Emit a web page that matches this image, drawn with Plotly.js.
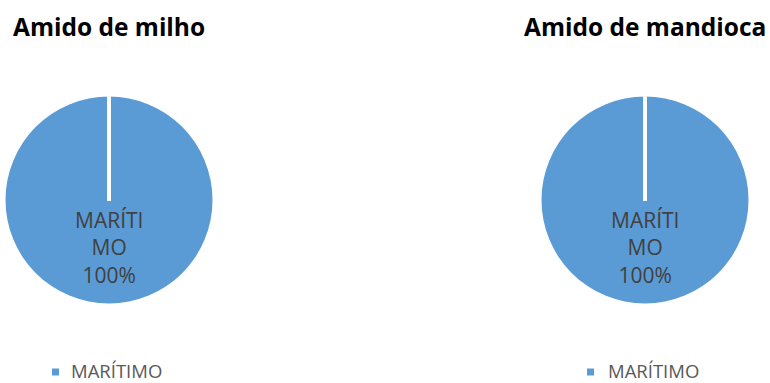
<!DOCTYPE html>
<html><head><meta charset="utf-8">
<script src="https://cdn.plot.ly/plotly-3.0.1.min.js"></script>
<style>body{margin:0;background:#fff}#c{width:770px;height:383px}</style>
</head><body><div id="c"></div>
<script>
const chartTitles = ["Amido de milho", "Amido de mandioca"];
const categories = ["MARÍTIMO"];
const wrappedLabels = ["MARÍTI<br>MO"];
const valuesMilho = [100];
const valuesMandioca = [100];

const W = 770, H = 383;
const pieColor = "#5B9BD5";
const pies = [
  {values: valuesMilho, cx: 109, cy: 200, r: 103.5, legSq: 55.5, legText: 70},
  {values: valuesMandioca, cx: 645, cy: 200, r: 103.5, legSq: 590.5, legText: 607}
];

const data = pies.map((p, i) => ({
  type: "pie",
  labels: categories,
  values: p.values,
  marker: {colors: [pieColor], line: {color: "#ffffff", width: 0}},
  textinfo: "none",
  hoverinfo: "label+percent",
  sort: false,
  direction: "clockwise",
  rotation: 0,
  showlegend: false,
  domain: {
    x: [(p.cx - p.r) / W, (p.cx + p.r) / W],
    y: [1 - (p.cy + p.r) / H, 1 - (p.cy - p.r) / H]
  }
}));

const annotations = [];
const shapes = [];
const fam = "Open Sans, sans-serif";
pies.forEach((p, i) => {
  const total = p.values.reduce((a, b) => a + b, 0);
  annotations.push({
    text: "<b>" + chartTitles[i] + "</b>",
    xref: "paper", yref: "paper",
    x: p.cx / W, y: 1 - 26 / H,
    xanchor: "center", yanchor: "middle",
    showarrow: false,
    font: {family: fam, size: 24.5, color: "#000000"}
  });
  p.values.forEach((v, j) => {
    annotations.push({
      text: wrappedLabels[j] + "<br>" + Math.round(v / total * 100) + "%",
      xref: "paper", yref: "paper",
      x: p.cx / W, y: 1 - 247 / H,
      xanchor: "center", yanchor: "middle",
      showarrow: false,
      font: {family: fam, size: 21, color: "#404040"}
    });
    // legend entry
    annotations.push({
      text: categories[j],
      xref: "paper", yref: "paper",
      x: p.legText / W, y: 1 - 370 / H,
      xanchor: "left", yanchor: "middle",
      showarrow: false, borderpad: 0,
      font: {family: fam, size: 18.5, color: "#595959"}
    });
    shapes.push({
      type: "rect", xref: "paper", yref: "paper",
      x0: (p.legSq - 3.5) / W, x1: (p.legSq + 3.5) / W,
      y0: 1 - 375.5 / H, y1: 1 - 368.5 / H,
      fillcolor: pieColor, line: {width: 0}
    });
  });
  shapes.push({
    type: "line", xref: "paper", yref: "paper",
    x0: p.cx / W, x1: p.cx / W,
    y0: 1 - (p.cy + 1) / H, y1: 1 - (p.cy - p.r - 1) / H,
    line: {color: "#ffffff", width: 4}
  });
});

const layout = {
  width: W, height: H,
  margin: {l: 0, r: 0, t: 0, b: 0},
  paper_bgcolor: "#ffffff",
  plot_bgcolor: "#ffffff",
  showlegend: false,
  annotations: annotations,
  shapes: shapes
};

Plotly.newPlot("c", data, layout, {displayModeBar: false, staticPlot: true});
</script>
</body></html>
